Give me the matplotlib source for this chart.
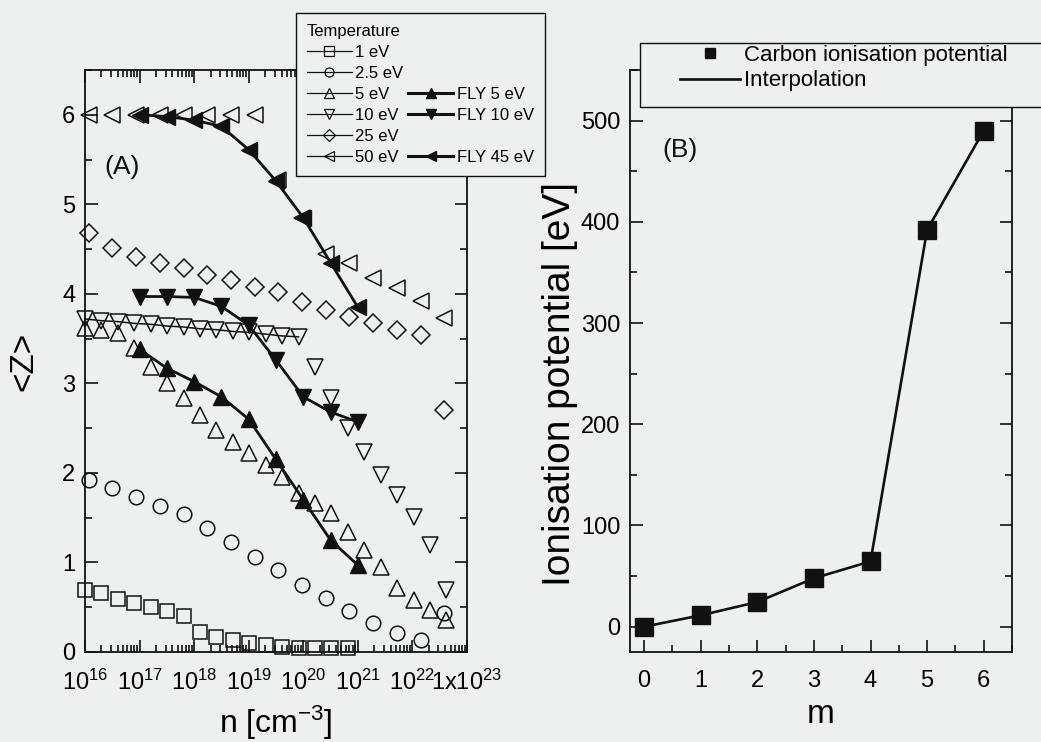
import matplotlib
matplotlib.use('Agg')
import matplotlib.pyplot as plt
from matplotlib.lines import Line2D
from matplotlib.patches import Rectangle
from matplotlib.ticker import MultipleLocator, LogLocator, NullFormatter

plt.rcParams['font.family'] = ['Liberation Sans', 'DejaVu Sans']
plt.rcParams['mathtext.fontset'] = 'custom'
plt.rcParams['mathtext.rm'] = 'Liberation Sans'
plt.rcParams['mathtext.it'] = 'Liberation Sans:italic'
plt.rcParams['mathtext.bf'] = 'Liberation Sans:bold'

# ---------------- data: panel (A) ----------------
# density grids [cm^-3]
n_grid_a = [1e16, 2e16, 4e16, 8e16, 1.6e17, 3.2e17, 6.4e17, 1.28e18, 2.56e18,
            5.12e18, 1.02e19, 2.05e19, 4.1e19, 8.19e19, 1.64e20, 3.28e20,
            6.55e20, 1.31e21, 2.62e21, 5.24e21, 1.05e22, 2.1e22, 4.19e22]
n_grid_b = [1.17e16, 3.19e16, 8.66e16, 2.35e17, 6.40e17, 1.74e18, 4.73e18,
            1.29e19, 3.49e19, 9.50e19, 2.58e20, 7.02e20, 1.91e21, 5.19e21,
            1.41e22, 3.83e22]
n_fly = [1e17, 3.16e17, 1e18, 3.16e18, 1e19, 3.16e19, 1e20, 3.16e20, 1e21]

z_1eV = [0.69, 0.66, 0.59, 0.55, 0.50, 0.46, 0.40, 0.22, 0.17, 0.13, 0.10,
         0.08, 0.06, 0.04, 0.04, 0.04, 0.04]
z_2p5eV = [1.92, 1.83, 1.73, 1.63, 1.54, 1.38, 1.23, 1.06, 0.92, 0.75, 0.60,
           0.46, 0.32, 0.21, 0.13, 0.44]
z_5eV = [3.62, 3.60, 3.56, 3.40, 3.18, 3.00, 2.84, 2.65, 2.48, 2.35, 2.22,
         2.09, 1.96, 1.78, 1.66, 1.55, 1.34, 1.14, 0.95, 0.71, 0.58, 0.47, 0.36]
z_10eV = [3.72, 3.70, 3.69, 3.67, 3.66, 3.64, 3.63, 3.61, 3.60, 3.58, 3.57,
          3.55, 3.53, 3.52, 3.18, 2.84, 2.50, 2.23, 1.98, 1.75, 1.51, 1.20, 0.69]
z_25eV = [4.68, 4.51, 4.41, 4.34, 4.29, 4.21, 4.16, 4.08, 4.02, 3.91, 3.82,
          3.74, 3.67, 3.60, 3.54, 2.70]
z_50eV = [6.0, 6.0, 6.0, 6.0, 6.0, 6.0, 6.0, 6.0, 5.27, 4.85, 4.45, 4.35,
          4.18, 4.06, 3.92, 3.73]
z_fly5 = [3.38, 3.17, 3.02, 2.85, 2.60, 2.15, 1.70, 1.25, 0.97]
z_fly10 = [3.97, 3.97, 3.96, 3.86, 3.65, 3.26, 2.85, 2.68, 2.57]
z_fly45 = [6.0, 5.98, 5.94, 5.87, 5.61, 5.26, 4.85, 4.35, 3.85]

x_ticks_a = [1e16, 1e17, 1e18, 1e19, 1e20, 1e21, 1e22, 1e23]
x_ticklabels_a = [r'$10^{16}$', r'$10^{17}$', r'$10^{18}$', r'$10^{19}$',
                  r'$10^{20}$', r'$10^{21}$', r'$10^{22}$', r'1x$10^{23}$']

# ---------------- data: panel (B) ----------------
m_vals = [0, 1, 2, 3, 4, 5, 6]
ion_pot = [0.0, 11.26, 24.38, 47.89, 64.49, 392.1, 490.0]

# ---------------- style ----------------
bg = '#eef0f0'
ink = '#111111'

fig = plt.figure(figsize=(10.41, 7.42), dpi=100, facecolor=bg)
W, H = 1041.0, 742.0
axA = fig.add_axes([85 / W, 1 - 652 / H, 382 / W, 582 / H], facecolor=bg)
axB = fig.add_axes([630 / W, 1 - 652 / H, 382 / W, 582 / H], facecolor=bg)

open_kw = dict(color=ink, mfc='none', mec=ink, mew=1.1, ls='none', clip_on=False)
fly_kw = dict(color=ink, mfc=ink, mec=ink, lw=2.0, clip_on=False)

axA.plot(n_grid_a[:len(z_1eV)], z_1eV, marker='s', ms=10, **open_kw)
axA.plot(n_grid_b, z_2p5eV, marker='o', ms=10.5, **open_kw)
axA.plot(n_grid_a, z_5eV, marker='^', ms=11, **open_kw)
axA.plot(n_grid_a, z_10eV, marker='v', ms=11, **open_kw)
axA.plot(n_grid_a[:14], z_10eV[:14], color=ink, lw=1.1, clip_on=False)
axA.plot(n_grid_b, z_25eV, marker='D', ms=9, **open_kw)
axA.plot(n_grid_b, z_50eV, marker='<', ms=11, **open_kw)
axA.plot(n_fly, z_fly5, marker='^', ms=11, **fly_kw)
axA.plot(n_fly, z_fly10, marker='v', ms=11, **fly_kw)
axA.plot(n_fly, z_fly45, marker='<', ms=11, **fly_kw)

axA.set_xscale('log')
axA.set_xlim(1e16, 1e23)
axA.set_ylim(0, 6.5)
axA.set_xticks(x_ticks_a, x_ticklabels_a)
axA.xaxis.set_minor_locator(LogLocator(base=10, subs=range(2, 10), numticks=50))
axA.xaxis.set_minor_formatter(NullFormatter())
axA.yaxis.set_major_locator(MultipleLocator(1))
axA.yaxis.set_minor_locator(MultipleLocator(0.5))
axA.set_xlabel(r'n [cm$^{-3}$]', fontsize=23, labelpad=6)
axA.set_ylabel('<Z>', fontsize=24)
axA.yaxis.set_label_coords(-0.12, 0.5)
axA.text(0.052, 0.833, '(A)', transform=axA.transAxes, fontsize=19,
         va='center', ha='left', color=ink)

# legend (A)
leg_lw = 0.9
def open_proxy(mk):
    return Line2D([], [], color=ink, lw=leg_lw, marker=mk, ms=6.5, mfc='none',
                  mec=ink, mew=0.9)
def fly_proxy(mk):
    return Line2D([], [], color=ink, lw=2.2, marker=mk, ms=7, mfc=ink, mec=ink)
blank = Line2D([], [], ls='none', marker='none')
handlesA = [open_proxy('s'), open_proxy('o'), open_proxy('^'), open_proxy('v'),
            open_proxy('D'), open_proxy('<'),
            blank, blank, fly_proxy('^'), fly_proxy('v'), blank, fly_proxy('<')]
labelsA = ['1 eV', '2.5 eV', '5 eV', '10 eV', '25 eV', '50 eV',
           '', '', 'FLY 5 eV', 'FLY 10 eV', '', 'FLY 45 eV']
legA = fig.legend(handlesA, labelsA, ncol=2, title='Temperature',
                  loc='upper left', bbox_to_anchor=(296 / W, 1 - 13 / H),
                  bbox_transform=fig.transFigure, borderaxespad=0,
                  fontsize=12, title_fontsize=12, alignment='left',
                  handlelength=2.7, handletextpad=0.2, columnspacing=0.3,
                  labelspacing=0.36, borderpad=0.65, fancybox=False,
                  framealpha=1, facecolor=bg, edgecolor=ink)
legA.get_frame().set_linewidth(1.0)

# ---------------- panel (B) ----------------
axB.plot(m_vals, ion_pot, color=ink, lw=1.9, label='Interpolation', clip_on=False)
axB.plot(m_vals, ion_pot, ls='none', marker='s', ms=13, color=ink,
         label='Carbon ionisation potential', clip_on=False)
axB.set_xlim(-0.25, 6.5)
axB.set_ylim(-25, 550)
axB.xaxis.set_major_locator(MultipleLocator(1))
axB.xaxis.set_minor_locator(MultipleLocator(0.5))
axB.yaxis.set_major_locator(MultipleLocator(100))
axB.yaxis.set_minor_locator(MultipleLocator(50))
axB.set_xlabel('m', fontsize=24, labelpad=5)
axB.set_ylabel('Ionisation potential [eV]', fontsize=28)
axB.yaxis.set_label_coords(-0.136, 0.46)
axB.text(0.086, 0.862, '(B)', transform=axB.transAxes, fontsize=19,
         va='center', ha='left', color=ink)

# legend (B): frame box drawn as a figure rectangle, entries inset
boxB = Rectangle((640 / W, 1 - 107 / H), 410 / W, 64 / H,
                 transform=fig.transFigure, facecolor=bg, edgecolor=ink,
                 linewidth=1.0, zorder=4)
fig.patches.append(boxB)
hB, lB = axB.get_legend_handles_labels()
legB = fig.legend([hB[1], hB[0]], [lB[1], lB[0]], loc='upper left',
                  bbox_to_anchor=(680 / W, 1 - 45 / H),
                  bbox_transform=fig.transFigure, borderaxespad=0,
                  fontsize=16, handlelength=2.7, handletextpad=0.2,
                  labelspacing=0.2, borderpad=0.0, markerscale=0.55,
                  frameon=False)

for ax in (axA, axB):
    for sp in ax.spines.values():
        sp.set_linewidth(1.3)
        sp.set_color(ink)
    ax.tick_params(which='both', direction='in', top=True, right=True,
                   color=ink, width=1.2)
    ax.tick_params(which='major', length=9)
    ax.tick_params(which='minor', length=5)
    ax.tick_params(axis='x', which='major', labelsize=17, pad=13)
    ax.tick_params(axis='y', which='major', labelsize=17, pad=7)

fig.savefig('out.png', dpi=100, facecolor=bg)
